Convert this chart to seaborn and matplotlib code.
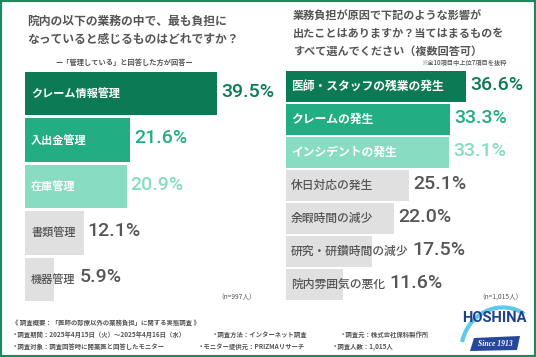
import matplotlib
matplotlib.use('Agg')
import matplotlib.pyplot as plt
import seaborn as sns
from matplotlib.patches import Rectangle, Polygon, PathPatch
from matplotlib.path import Path

# 左グラフ: 最も負担になっている業務
left_items = ['クレーム情報管理', '入出金管理', '在庫管理', '書類管理', '機器管理']
left_values = [39.5, 21.6, 20.9, 12.1, 5.9]

# 右グラフ: 業務負担による影響（上位7項目）
right_items = ['医師・スタッフの残業の発生', 'クレームの発生', 'インシデントの発生',
               '休日対応の発生', '余暇時間の減少', '研究・研鑽時間の減少', '院内雰囲気の悪化']
right_values = [36.6, 33.3, 33.1, 25.1, 22.0, 17.5, 11.6]

left_title = ['院内の以下の業務の中で、最も負担に', 'なっていると感じるものはどれですか？']
left_sub = 'ー「管理している」と回答した方が回答ー'
right_title = ['業務負担が原因で下記のような影響が', '出たことはありますか？当てはまるものを',
               'すべて選んでください（複数回答可）']
right_note = '※全10項目中上位7項目を抜粋'
left_n = '（n=997人）'
right_n = '（n=1,015人）'

footer_head = '《 調査概要：「医師の診療以外の業務負担」に関する実態調査 》'
footer_rows = [
    ['・調査期間：2025年4月15日（火）～2025年4月16日（水）', '・調査方法：インターネット調査', '・調査元：株式会社保科製作所'],
    ['・調査対象：調査回答時に開業医と回答したモニター', '・モニター提供元：PRIZMAリサーチ', '・調査人数：1,015人'],
]

DARK = '#0b7a55'
MID = '#22ad82'
LIGHT = '#88dcc1'
GRAY_BAR = '#e0e0e0'
TXT = '#555555'

sns.set_theme(style='white')
plt.rcParams['font.family'] = ['Noto Sans CJK JP', 'DejaVu Sans']

W, H = 536, 357
fig = plt.figure(figsize=(W / 100, H / 100), dpi=100)
fig.patch.set_facecolor('white')

# 全体を覆うピクセル座標の注釈用Axes
ov = fig.add_axes([0, 0, 1, 1], zorder=0)
ov.set_xlim(0, W)
ov.set_ylim(H, 0)
ov.axis('off')
ov.patch.set_alpha(0)


def bar_panel(rect, items, values, width, lab_size, lab_pad):
    ax = fig.add_axes([rect[0] / W, (H - rect[3]) / H, rect[2] / W, (rect[3] - rect[1]) / H], zorder=2)
    cols = [DARK, MID, LIGHT] + [GRAY_BAR] * (len(items) - 3)
    sns.barplot(x=values, y=items, hue=items, palette=cols, legend=False,
                width=width, saturation=1, ax=ax, edgecolor='none')
    ax.set_xlim(0, 50)
    ax.set_ylim(len(items) - 1 + width / 2, -width / 2)
    ax.axis('off')
    ax.patch.set_alpha(0)
    ppu = (rect[2]) / 50.0
    labels = []
    for i, name in enumerate(items):
        colored = i < 3
        t = ax.text(lab_pad / ppu, i, name, va='center', ha='left', fontsize=lab_size,
                    color='white' if colored else TXT,
                    fontweight='bold' if colored else 'medium')
        labels.append(t)
    fig.canvas.draw()
    r = fig.canvas.get_renderer()
    inv = ax.transData.inverted()
    for i, (t, v) in enumerate(zip(labels, values)):
        lab_end = inv.transform((t.get_window_extent(r).x1, 0))[0]
        x = max(v, lab_end) + 4 / ppu
        vc = [DARK, MID, LIGHT][i] if i < 3 else TXT
        ax.text(x, i - 0.04, f'{v:.1f}%', va='center', ha='left', fontsize=14,
                color=vc, fontweight='medium', family='Roboto')
    return ax


bar_panel((25, 72, 243, 301), left_items, left_values, 0.935, 8, 6)
bar_panel((286, 71, 246, 300), right_items, right_values, 0.94, 8.5, 5)

# タイトル
for k, line in enumerate(left_title):
    ov.text(27, 21 + 19 * k, line, fontsize=8.5, color=TXT, fontweight='bold', va='center', ha='left')
ov.text(124, 62, left_sub, fontsize=5.2, color=TXT, fontweight='bold', va='center', ha='center')
for k, line in enumerate(right_title):
    ov.text(293, 16 + 17.5 * k, line, fontsize=8, color=TXT, fontweight='bold', va='center', ha='left')
ov.text(507, 63, right_note, fontsize=4.5, color=TXT, fontweight='medium', va='center', ha='right')

ov.text(256, 297, left_n, fontsize=4.8, color=TXT, va='center', ha='right')
ov.text(523, 298, right_n, fontsize=4.8, color=TXT, va='center', ha='right')

# フッター
ov.text(12, 323, footer_head, fontsize=4.6, color=TXT, fontweight='bold', va='center', ha='left')
col_x = [[12, 212, 340], [12, 198, 332]]
for r_i, row in enumerate(footer_rows):
    for c_i, s in enumerate(row):
        ov.text(col_x[r_i][c_i], 335 + 11.5 * r_i, s, fontsize=4.6, color=TXT,
                fontweight='bold', va='center', ha='left')

# ロゴ
swoosh = Path([(462, 342), (470, 308), (505, 300), (524, 314)],
              [Path.MOVETO, Path.CURVE4, Path.CURVE4, Path.CURVE4])
ov.add_patch(PathPatch(swoosh, fc='none', ec='#4fc3e8', lw=3, alpha=0.9, zorder=3))
ov.text(494, 318, 'HOSHINA', fontsize=10.5, color='#1d3f8f', fontweight='bold',
        family='Roboto', va='center', ha='center', zorder=4)
ov.add_patch(Polygon([(474, 338), (520, 336), (517, 350), (470, 351)],
                     closed=True, fc='#27479a', ec='none', zorder=4))
ov.text(495, 343.5, 'Since 1913', fontsize=5.5, color='white', fontstyle='italic',
        fontweight='bold', family='Liberation Serif', va='center', ha='center', zorder=5)

# 外枠
fig.patches.append(Rectangle((0, 0), 1, 1, transform=fig.transFigure, fill=False,
                             ec='#1b8a5e', lw=3, zorder=10))

fig.savefig('out.png', dpi=100)
